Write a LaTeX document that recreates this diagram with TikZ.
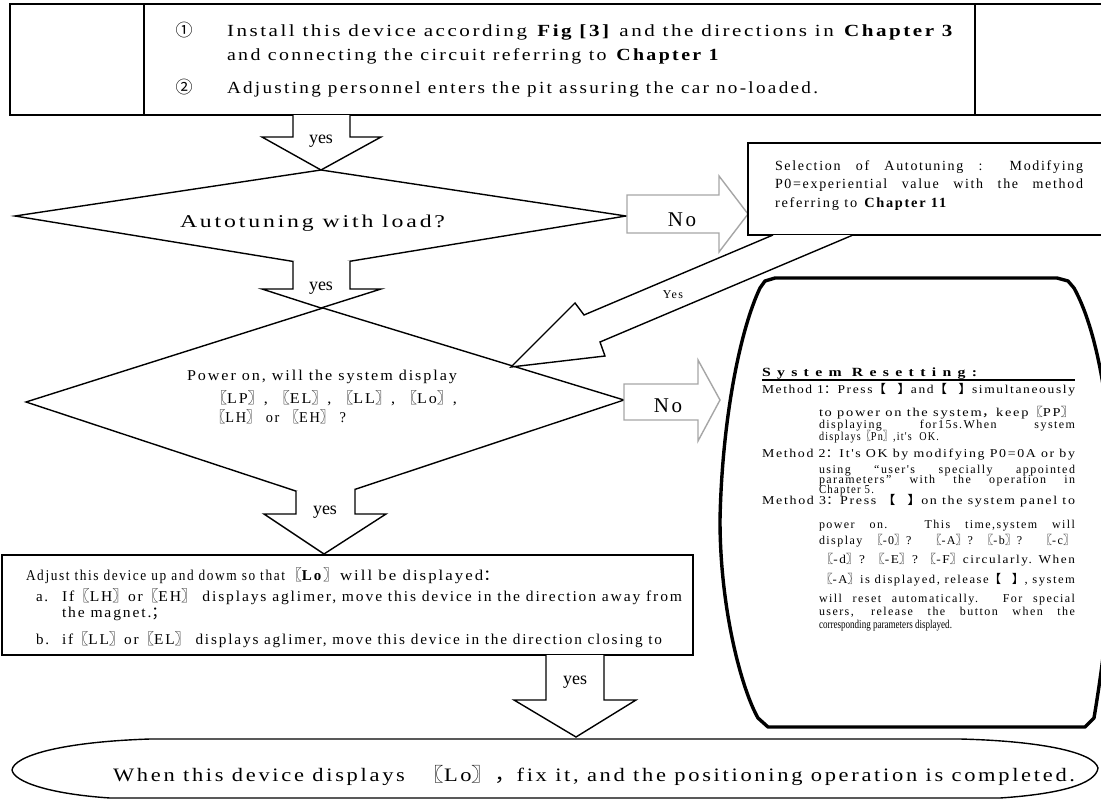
\documentclass[tikz,border=0pt]{standalone}
\usepackage{fontspec}
\setmainfont{Liberation Serif}
\newfontfamily\cjk{Noto Sans CJK SC}
\newfontfamily\lsf[LetterSpace=12]{Liberation Serif}
\newfontfamily\hdf[LetterSpace=40]{Liberation Serif}
\newcommand\fitw[2]{\resizebox{#1pt}{\height}{#2}}
\newcommand\jst[2]{\makebox[#1pt][s]{#2}}
\newcommand\lbk{{\cjk 〖}}
\newcommand\rbk{{\cjk 〗}}
\newcommand\lsq{{\cjk 【}}
\newcommand\rsq{{\cjk 】}}
\newcommand\fcol{{\cjk ：}}
\newcommand\fcom{{\cjk ，}}
\tikzset{
  ln/.style={line width=1.4pt, line join=miter},
  grarrow/.style={draw=black!35, line width=1.4pt, fill=white, line join=miter},
  tx/.style={inner sep=0pt, outer sep=0pt, anchor=base west},
  txc/.style={inner sep=0pt, outer sep=0pt, anchor=base},
  fA/.style={font=\fontsize{17}{20}\selectfont\lsf},
  fB/.style={font=\fontsize{15}{18}\selectfont\lsf},
  fC/.style={font=\fontsize{12}{14}\selectfont\lsf},
  fY/.style={font=\fontsize{18}{20}\selectfont},
  fN/.style={font=\fontsize{21}{24}\selectfont\lsf},
}
\begin{document}
\begin{tikzpicture}[x=1pt,y=-1pt]
\useasboundingbox (0,0) rectangle (1101,800);
\clip (0,0) rectangle (1101,800);
\fill[white] (0,0) rectangle (1101,800);

% ---------- top box
\draw[ln] (1102,4) -- (10,4) -- (10,115) -- (1102,115);
\draw[ln] (144,4) -- (144,115);
\draw[ln] (975,4) -- (975,115);
\node[txc,fA] (c1) at (184,37) {\cjk ①};
\node[tx,fA] (l1) at (227,37) {\fitw{728}{Install this device according \textbf{Fig [3]} and the directions in \textbf{Chapter 3}}};
\node[tx,fA] (l2) at (227,61) {\fitw{494}{and connecting the circuit referring to \textbf{Chapter 1}}};
\node[txc,fA] (c2) at (184,94) {\cjk ②};
\node[tx,fA] (l3) at (227,94) {\fitw{591}{Adjusting personnel enters the pit assuring the car no-loaded.}};

% ---------- arrow 1
\draw[ln,fill=white] (293,115) -- (293,137) -- (262,137) -- (321,170) -- (381,137) -- (350,137) -- (350,115);
\node[txc,fY] (y1) at (321,143) {yes};

% ---------- diamond 1
\draw[ln,fill=white] (321,170) -- (626,216) -- (321,266) -- (15,216) -- cycle;
\node[tx,font=\fontsize{18}{20}\selectfont\lsf] (d1) at (180,227) {\fitw{265}{Autotuning with load?}};

% ---------- arrow 2
\draw[ln,fill=white] (293,261) -- (293,289) -- (262,289) -- (321,308) -- (381,289) -- (350,289) -- (350,261);
\node[txc,fY] (y2) at (321,290) {yes};

% ---------- no arrow 1
\draw[grarrow] (627,195) -- (719,195) -- (719,176) -- (748,214) -- (719,252) -- (719,233) -- (627,233) -- cycle;
\node[txc,fN] (no1) at (682,226) {No};

% ---------- selection box
\draw[ln,fill=white] (748,143) rectangle (1104,235);
\node[tx,font=\fontsize{14}{16}\selectfont\lsf] (s1) at (775,170) {\jst{308}{Selection of Autotuning : Modifying}};
\node[tx,font=\fontsize{14}{16}\selectfont\lsf] (s2) at (775,188) {\jst{308}{P0=experiential value with the method}};
\node[tx,font=\fontsize{14}{16}\selectfont\lsf] (s3) at (775,207) {\fitw{173}{referring to \textbf{Chapter 11}}};

% ---------- diamond 2
\draw[ln,fill=white] (323,308) -- (624,400) -- (323,500) -- (26,402) -- cycle;
\node[tx,fB] (p1) at (187,380) {\fitw{270}{Power on, will the system display}};
\node[tx,fB] (p2) at (211,403) {\fitw{246}{\lbk LP\rbk , \lbk EL\rbk , \lbk LL\rbk , \lbk Lo\rbk ,}};
\node[tx,fB] (p3) at (211,422) {\fitw{135}{\lbk LH\rbk\ or \lbk EH\rbk\ ?}};

% ---------- yes diagonal arrow
\draw[ln,fill=white] (773,235) -- (584,315) -- (575,303) -- (511,367) -- (605,356) -- (600,342) -- (853,235);
\node[txc,font=\fontsize{12}{14}\selectfont\lsf] (ydiag) at (673,298) {Yes};

% ---------- no arrow 2
\draw[grarrow] (624,384) -- (698,384) -- (698,360) -- (720,400) -- (698,441) -- (698,420) -- (624,420) -- cycle;
\node[txc,fN] (no2) at (668,412) {No};

% ---------- reset shape
\draw[line width=3.4pt, line join=round]
  (775,278) -- (1057,278) -- (1068,281) -- (1074,288)
  .. controls (1100,335) and (1114,430) .. (1112,520)
  .. controls (1112,600) and (1102,670) .. (1094,718)
  -- (1085,727) -- (768,727) -- (758,718)
  .. controls (742,690) and (720,610) .. (720,520)
  .. controls (722,420) and (740,330) .. (760,288)
  -- (765,281) -- cycle;
\node[tx,font=\fontsize{12.5}{14}\selectfont\hdf\bfseries] (rh) at (762,376) {\fitw{215}{System Resetting:}};
\draw[line width=2.4pt] (762,380) -- (1075,380);
\node[tx,fC] (r1) at (762,393) {\fitw{313}{Method 1\fcol Press\lsq\hspace{10pt}\rsq and\lsq\hspace{10pt}\rsq simultaneously}};
\node[tx,fC] (r2) at (819,416) {\fitw{256}{to power on the system\fcom keep\lbk PP\rbk}};
\node[tx,fC] (r3) at (819,428) {\jst{256}{displaying for15s.When system}};
\node[tx,fC] (r4) at (819,440) {\fitw{120}{displays\lbk Pn\rbk ,it's\ \ OK.}};
\node[tx,fC] (r5) at (762,457) {\fitw{313}{Method 2\fcol It's OK by modifying P0=0A or by}};
\node[tx,fC] (r6) at (819,473) {\jst{256}{using “user's specially appointed}};
\node[tx,fC] (r7) at (819,483) {\jst{256}{parameters” with the operation in}};
\node[tx,fC] (r8) at (819,493) {\fitw{55}{Chapter 5.}};
\node[tx,fC] (r9) at (762,504) {\fitw{313}{Method 3\fcol Press \lsq\hspace{10pt}\rsq on the system panel to}};
\node[tx,fC] (r10) at (819,528) {\jst{256}{power on. This time,system will}};
\node[tx,fC] (r11) at (819,544) {\jst{256}{display \lbk -0\rbk ? \lbk -A\rbk ? \lbk -b\rbk ? \lbk -c\rbk}};
\node[tx,fC] (r12) at (820,563) {\fitw{255}{\lbk -d\rbk ? \lbk -E\rbk ? \lbk -F\rbk circularly. When}};
\node[tx,fC] (r13) at (820,583) {\fitw{255}{\lbk -A\rbk is displayed, release\lsq\hspace{10pt}\rsq , system}};
\node[tx,fC] (r14) at (819,602) {\jst{256}{will reset automatically. For special}};
\node[tx,fC] (r15) at (819,615) {\jst{256}{users, release the button when the}};
\node[tx,font=\fontsize{12}{14}\selectfont] (r16) at (819,628) {\fitw{133}{corresponding parameters displayed.}};

% ---------- arrow 3
\draw[ln,fill=white] (296,491) -- (296,514) -- (264,514) -- (324,554) -- (386,514) -- (355,514) -- (355,489);
\node[txc,fY] (y3) at (325,514) {yes};

% ---------- adjust box
\draw[ln,fill=white] (2,555) rectangle (693,655);
\node[tx,fB] (a0) at (26,580) {\fitw{259}{Adjust this device up and dowm so that}\hspace{5pt}\makebox[45pt]{\lbk\textbf{Lo}\rbk}\hspace{5pt}\fitw{160}{will be displayed\fcol}};
\node[tx,fB] (aa) at (36,601) {a.};
\node[tx,fB] (a1) at (62,601) {\fitw{620}{If\lbk LH\rbk or\lbk EH\rbk\ displays aglimer, move this device in the direction away from}};
\node[tx,fB] (a2) at (62,617) {\fitw{105}{the magnet.\cjk ；}};
\node[tx,fB] (ab) at (36,644) {b.};
\node[tx,fB] (a3) at (62,644) {\fitw{600}{if\lbk LL\rbk or\lbk EL\rbk\ displays aglimer, move this device in the direction closing to}};

% ---------- arrow 4
\draw[ln,fill=white] (546,655) -- (546,700) -- (514,700) -- (576,737) -- (636,700) -- (604,700) -- (604,655);
\node[txc,fY] (y4) at (575,684) {yes};

% ---------- final terminator
\draw[ln,fill=white] (150,739) -- (960,739)
  .. controls (1040,741) and (1094,752) .. (1098,768)
  .. controls (1096,784) and (1060,794) .. (1000,798)
  -- (110,798)
  .. controls (50,794) and (14,782) .. (12,770)
  .. controls (14,756) and (60,742) .. (150,739);
\node[tx,font=\fontsize{19}{22}\selectfont\lsf] (fin) at (113,781) {\fitw{962}{When this device displays \ \lbk Lo\rbk\fcom fix it, and the positioning operation is completed.}};
\end{tikzpicture}
\end{document}
